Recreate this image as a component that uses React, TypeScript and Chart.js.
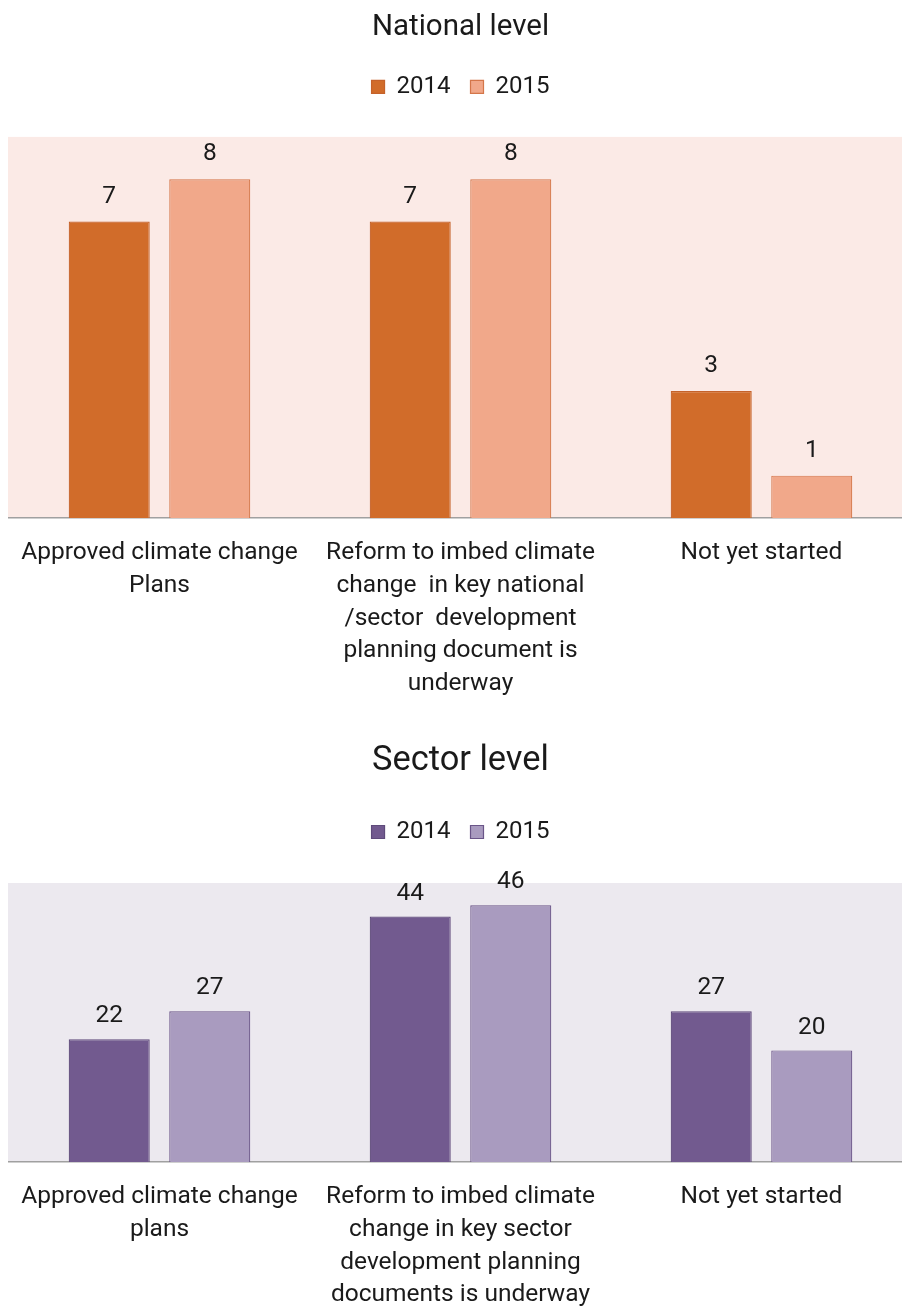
import React, { useEffect, useRef } from 'react';
import { Chart, registerables } from 'chart.js';
Chart.register(...registerables);

const seriesNames = ['2014', '2015'];

const nationalTitle = 'National level';
const nationalCategories = [
  ['Approved climate change', 'Plans'],
  ['Reform to imbed climate', 'change  in key national', '/sector  development', 'planning document is', 'underway'],
  ['Not yet started'],
];
const national2014 = [7, 7, 3];
const national2015 = [8, 8, 1];
const nationalMax = 9;

const sectorTitle = 'Sector level';
const sectorCategories = [
  ['Approved climate change', 'plans'],
  ['Reform to imbed climate', 'change in key sector', 'development planning', 'documents is underway'],
  ['Not yet started'],
];
const sector2014 = [22, 44, 27];
const sector2015 = [27, 46, 20];
const sectorMax = 50;

const FONT = "Roboto, 'Noto Sans', sans-serif";
const TEXT = '#1a1a1a';
const LABEL_SIZE = 24.5;

type PanelProps = {
  top: number;
  height: number;
  title: string;
  titleSize: number;
  titlePadTop: number;
  titlePadBottom: number;
  legendExtra: number;
  axisHeight: number;
  labels: string[][];
  a: number[];
  b: number[];
  max: number;
  colors: { c1: string; c2: string; b1: string; b2: string; bg: string };
  labelOffset: number;
};

function Panel(p: PanelProps) {
  const ref = useRef<HTMLCanvasElement | null>(null);
  useEffect(() => {
    if (!ref.current) return;
    const bgPlugin = {
      id: 'plotBg',
      beforeDraw(chart: any) {
        const { ctx, chartArea } = chart;
        ctx.save();
        ctx.fillStyle = p.colors.bg;
        ctx.fillRect(8, chartArea.top, chart.width - 8, chartArea.bottom - chartArea.top);
        ctx.restore();
      },
    };
    const legendGap = {
      id: 'legendGap',
      beforeInit(chart: any) {
        const lg = chart.legend;
        if (!lg) return;
        const orig = lg.fit;
        lg.fit = function () {
          orig.call(this);
          this.height += p.legendExtra;
        };
      },
    };
    const valueLabels = {
      id: 'valueLabels',
      afterDatasetsDraw(chart: any) {
        const { ctx } = chart;
        ctx.save();
        ctx.font = `${LABEL_SIZE}px ${FONT}`;
        ctx.fillStyle = TEXT;
        ctx.textAlign = 'center';
        ctx.textBaseline = 'middle';
        chart.data.datasets.forEach((ds: any, i: number) => {
          const meta = chart.getDatasetMeta(i);
          meta.data.forEach((el: any, j: number) => {
            ctx.fillText(String(ds.data[j]), el.x, el.y - p.labelOffset);
          });
        });
        ctx.restore();
      },
    };
    const chart = new Chart(ref.current, {
      type: 'bar',
      data: {
        labels: p.labels as any,
        datasets: [
          {
            label: seriesNames[0],
            data: p.a,
            backgroundColor: p.colors.c1,
            borderColor: p.colors.b1,
            borderWidth: 1.2,
            categoryPercentage: 0.668,
            barPercentage: 0.806,
          },
          {
            label: seriesNames[1],
            data: p.b,
            backgroundColor: p.colors.c2,
            borderColor: p.colors.b2,
            borderWidth: 1.2,
            categoryPercentage: 0.668,
            barPercentage: 0.806,
          },
        ],
      },
      options: {
        animation: false,
        responsive: false,
        devicePixelRatio: 1,
        layout: { padding: { left: 9, right: 8, top: 0, bottom: 0 } },
        plugins: {
          tooltip: { enabled: false },
          title: {
            display: true,
            text: p.title,
            color: TEXT,
            font: { family: FONT, size: p.titleSize, weight: 'normal' as any, lineHeight: 1.2 },
            padding: { top: p.titlePadTop, bottom: p.titlePadBottom },
          },
          legend: {
            display: true,
            position: 'top',
            labels: {
              color: TEXT,
              font: { family: FONT, size: 24 },
              boxWidth: 13,
              boxHeight: 13,
              padding: 20,
            },
          },
        },
        scales: {
          x: {
            grid: { display: false, drawTicks: false },
            border: { display: true, color: '#a0a0a0', width: 1.5 },
            ticks: {
              color: TEXT,
              font: { family: FONT, size: LABEL_SIZE, lineHeight: 1.345 },
              padding: 18,
              maxRotation: 0,
              minRotation: 0,
              autoSkip: false,
            },
            afterFit(scale: any) {
              scale.height = p.axisHeight;
            },
          },
          y: {
            display: false,
            min: 0,
            max: p.max,
          },
        },
      },
      plugins: [bgPlugin, legendGap, valueLabels],
    });
    return () => chart.destroy();
  }, []);
  return (
    <canvas
      ref={ref}
      width={920}
      height={p.height}
      style={{ position: 'absolute', left: 0, top: p.top, width: 920, height: p.height, display: 'block' }}
    />
  );
}

export default function App() {
  return (
    <div style={{ position: 'absolute', left: 0, top: 0, width: 902, height: 1307, overflow: 'hidden', background: '#fff' }}>
      <Panel
        top={0}
        height={718}
        title={nationalTitle}
        titleSize={29.5}
        titlePadTop={10}
        titlePadBottom={9.5}
        legendExtra={28}
        axisHeight={200}
        labels={nationalCategories}
        a={national2014}
        b={national2015}
        max={nationalMax}
        colors={{ c1: '#D16C2A', c2: '#F1A88A', b1: '#C5622A', b2: '#D4764A', bg: '#FBEAE6' }}
        labelOffset={25}
      />
      <Panel
        top={718}
        height={589}
        title={sectorTitle}
        titleSize={34.4}
        titlePadTop={22.4}
        titlePadBottom={18.3}
        legendExtra={29}
        axisHeight={145}
        labels={sectorCategories}
        a={sector2014}
        b={sector2015}
        max={sectorMax}
        colors={{ c1: '#725A8F', c2: '#A99BBF', b1: '#5F4B7B', b2: '#6A5588', bg: '#ECE9EF' }}
        labelOffset={23}
      />
    </div>
  );
}
